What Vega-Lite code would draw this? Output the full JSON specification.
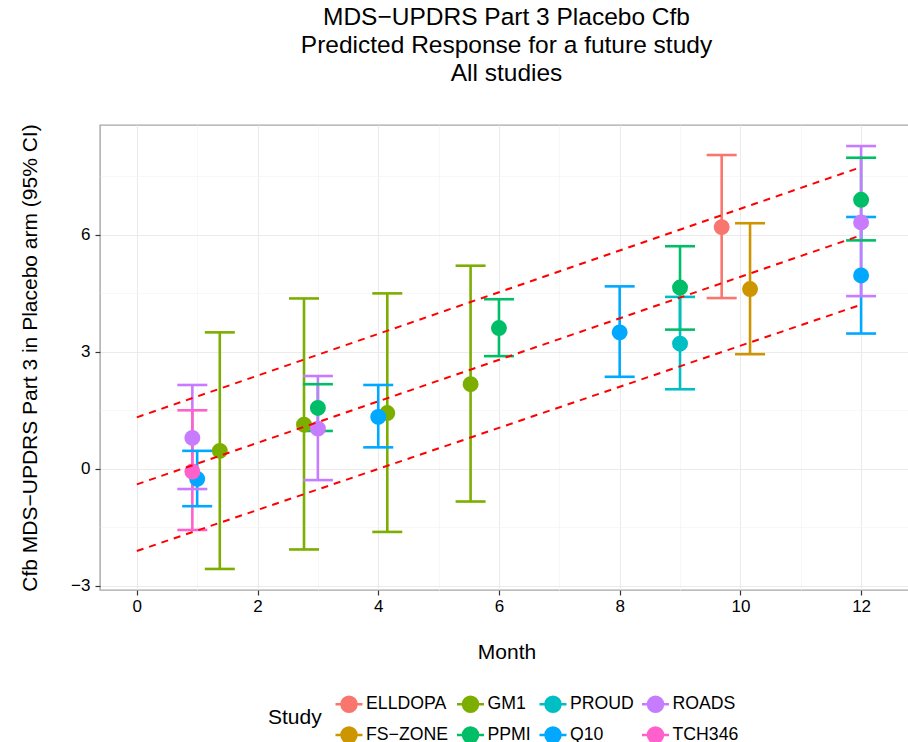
{
  "$schema": "https://vega.github.io/schema/vega-lite/v6.json",
  "width": 813,
  "height": 465,
  "autosize": {"type": "none"},
  "padding": {"left": 100, "top": 125, "right": 0, "bottom": 152},
  "background": "white",
  "title": {
    "text": ["MDS−UPDRS Part 3 Placebo Cfb", "Predicted Response for a future study", "All studies"],
    "font": "Liberation Sans",
    "fontSize": 24.5,
    "fontWeight": "normal",
    "color": "black",
    "lineHeight": 28.3,
    "anchor": "middle",
    "frame": "group",
    "offset": 37
  },
  "config": {
    "font": "Liberation Sans",
    "view": {"stroke": "#a6a6a6", "strokeWidth": 1.4}
  },
  "datasets": {
    "studies": [
      {"Study": "ELLDOPA", "Month": 9.69, "Mean": 6.2, "Lower": 4.38, "Upper": 8.05},
      {"Study": "FS-ZONE", "Month": 10.16, "Mean": 4.61, "Lower": 2.94, "Upper": 6.3},
      {"Study": "GM1", "Month": 1.375, "Mean": 0.46, "Lower": -2.57, "Upper": 3.5},
      {"Study": "GM1", "Month": 2.77, "Mean": 1.13, "Lower": -2.07, "Upper": 4.37},
      {"Study": "GM1", "Month": 4.15, "Mean": 1.43, "Lower": -1.62, "Upper": 4.5},
      {"Study": "GM1", "Month": 5.53, "Mean": 2.17, "Lower": -0.84, "Upper": 5.21},
      {"Study": "PPMI", "Month": 3.0, "Mean": 1.56, "Lower": 0.97, "Upper": 2.17},
      {"Study": "PPMI", "Month": 6.0, "Mean": 3.61, "Lower": 2.89, "Upper": 4.35},
      {"Study": "PPMI", "Month": 9.0, "Mean": 4.65, "Lower": 3.57, "Upper": 5.71},
      {"Study": "PPMI", "Month": 12.0, "Mean": 6.9, "Lower": 5.86, "Upper": 7.98},
      {"Study": "PROUD", "Month": 9.0, "Mean": 3.21, "Lower": 2.04, "Upper": 4.41},
      {"Study": "Q10", "Month": 1.0, "Mean": -0.26, "Lower": -0.96, "Upper": 0.46},
      {"Study": "Q10", "Month": 4.0, "Mean": 1.33, "Lower": 0.55, "Upper": 2.15},
      {"Study": "Q10", "Month": 8.0, "Mean": 3.5, "Lower": 2.36, "Upper": 4.68},
      {"Study": "Q10", "Month": 12.0, "Mean": 4.96, "Lower": 3.47, "Upper": 6.46},
      {"Study": "ROADS", "Month": 0.92, "Mean": 0.79, "Lower": -0.52, "Upper": 2.15},
      {"Study": "ROADS", "Month": 3.0, "Mean": 1.03, "Lower": -0.29, "Upper": 2.38},
      {"Study": "ROADS", "Month": 12.0, "Mean": 6.32, "Lower": 4.43, "Upper": 8.28},
      {"Study": "TCH346", "Month": 0.92, "Mean": -0.07, "Lower": -1.57, "Upper": 1.5}
    ],
    "bands": [
      {"Line": "upper", "Month": 0, "Value": 1.32},
      {"Line": "upper", "Month": 12, "Value": 7.74},
      {"Line": "center", "Month": 0, "Value": -0.4},
      {"Line": "center", "Month": 12, "Value": 5.99},
      {"Line": "lower", "Month": 0, "Value": -2.11},
      {"Line": "lower", "Month": 12, "Value": 4.21}
    ]
  },
  "layer": [
    {
      "data": {"name": "studies"},
      "mark": {"type": "rule", "strokeWidth": 2.6, "opacity": 1},
      "encoding": {
        "x": {
          "field": "Month", "type": "quantitative",
          "scale": {"domain": [-0.61, 12.86], "nice": false, "zero": false},
          "axis": {
            "values": [0, 1, 2, 3, 4, 5, 6, 7, 8, 9, 10, 11, 12],
            "format": "d",
            "grid": true,
            "gridColor": {"condition": {"test": "datum.value % 2 !== 0", "value": "#f3f3f3"}, "value": "#ebebeb"},
            "gridWidth": {"condition": {"test": "datum.value % 2 !== 0", "value": 0.7}, "value": 1.1},
            "tickOpacity": {"condition": {"test": "datum.value % 2 !== 0", "value": 0}, "value": 1},
            "labelExpr": "datum.value % 2 === 0 ? datum.label : ''",
            "domain": false,
            "tickColor": "#333333", "tickSize": 5, "tickWidth": 1.2,
            "labelFont": "Liberation Sans", "labelFontSize": 17, "labelColor": "black", "labelPadding": 3,
            "title": "Month", "titleFont": "Liberation Sans", "titleFontSize": 21, "titleFontWeight": "normal", "titleColor": "black", "titlePadding": 27
          }
        },
        "y": {
          "field": "Lower", "type": "quantitative",
          "scale": {"domain": [-3.11, 8.82], "nice": false, "zero": false},
          "axis": {
            "values": [-3, -1.5, 0, 1.5, 3, 4.5, 6, 7.5],
            "grid": true,
            "gridColor": {"condition": {"test": "datum.value % 3 !== 0", "value": "#f3f3f3"}, "value": "#ebebeb"},
            "gridWidth": {"condition": {"test": "datum.value % 3 !== 0", "value": 0.7}, "value": 1.1},
            "tickOpacity": {"condition": {"test": "datum.value % 3 !== 0", "value": 0}, "value": 1},
            "labelExpr": "datum.value % 3 === 0 ? datum.label : ''",
            "domain": false,
            "tickColor": "#333333", "tickSize": 5, "tickWidth": 1.2,
            "labelFont": "Liberation Sans", "labelFontSize": 17, "labelColor": "black", "labelPadding": 5,
            "title": "Cfb MDS−UPDRS Part 3 in Placebo arm (95% CI)", "titleFont": "Liberation Sans", "titleFontSize": 21, "titleFontWeight": "normal", "titleColor": "black", "titlePadding": 30
          }
        },
        "y2": {"field": "Upper"},
        "color": {
          "field": "Study", "type": "nominal",
          "scale": {
            "domain": ["ELLDOPA", "GM1", "PROUD", "ROADS", "FS-ZONE", "PPMI", "Q10", "TCH346"],
            "range": ["#F8766D", "#7CAE00", "#00BFC4", "#C77CFF", "#CD9600", "#00BE67", "#00A9FF", "#FF61CC"]
          },
          "legend": {
            "orient": "none", "legendX": 168, "legendY": 564,
            "direction": "horizontal", "columns": 4,
            "title": "Study", "titleOrient": "left", "titleAnchor": "middle", "titleBaseline": "middle",
            "titleFont": "Liberation Sans", "titleFontSize": 21, "titleFontWeight": "normal", "titleColor": "black", "titlePadding": 12,
            "labelFont": "Liberation Sans", "labelFontSize": 17.7, "labelColor": "black", "labelOffset": 2,
            "labelExpr": "replace(datum.label, '-', '−')",
            "columnPadding": 2.5, "rowPadding": 3,
            "symbolType": "M-1,0H1M0.556,0A0.556,0.556,0,1,1,-0.556,0A0.556,0.556,0,1,1,0.556,0Z",
            "symbolSize": 729, "symbolStrokeWidth": 2.5, "symbolOpacity": 1,
            "encode": {"symbols": {"update": {"stroke": {"scale": "color", "field": "value"}, "fill": {"scale": "color", "field": "value"}}}}
          }
        }
      }
    },
    {
      "data": {"name": "studies"},
      "mark": {"type": "tick", "orient": "horizontal", "size": 30, "thickness": 2.6, "opacity": 1},
      "encoding": {
        "x": {"field": "Month", "type": "quantitative"},
        "y": {"field": "Upper", "type": "quantitative"},
        "color": {"field": "Study", "type": "nominal"}
      }
    },
    {
      "data": {"name": "studies"},
      "mark": {"type": "tick", "orient": "horizontal", "size": 30, "thickness": 2.6, "opacity": 1},
      "encoding": {
        "x": {"field": "Month", "type": "quantitative"},
        "y": {"field": "Lower", "type": "quantitative"},
        "color": {"field": "Study", "type": "nominal"}
      }
    },
    {
      "data": {"name": "studies"},
      "mark": {"type": "circle", "size": 254, "opacity": 1},
      "encoding": {
        "x": {"field": "Month", "type": "quantitative"},
        "y": {"field": "Mean", "type": "quantitative"},
        "color": {"field": "Study", "type": "nominal"}
      }
    },
    {
      "data": {"name": "bands"},
      "mark": {"type": "line", "color": "#FF0000", "strokeDash": [7, 6], "strokeWidth": 2},
      "encoding": {
        "x": {"field": "Month", "type": "quantitative"},
        "y": {"field": "Value", "type": "quantitative"},
        "detail": {"field": "Line", "type": "nominal"}
      }
    },
    {
      "mark": {"type": "rule", "color": "#A020F0", "strokeDash": [9, 6], "strokeWidth": 1.8},
      "encoding": {"y": {"datum": 0, "type": "quantitative"}}
    }
  ]
}
